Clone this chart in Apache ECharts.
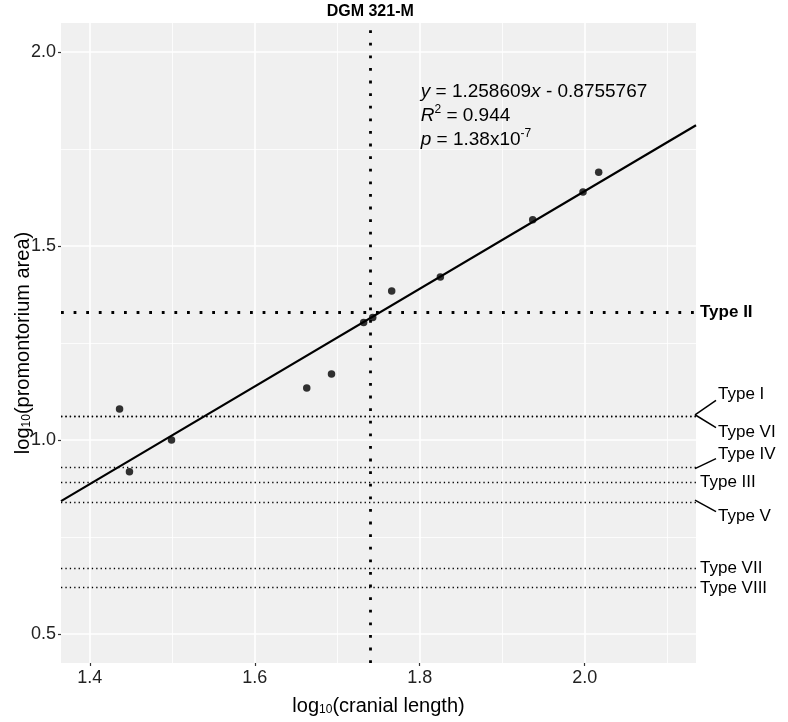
<!DOCTYPE html>
<html><head><meta charset="utf-8">
<script src="https://cdn.jsdelivr.net/npm/echarts@6/dist/echarts.min.js"></script>
<style>html,body{margin:0;padding:0;background:#fff}#c{width:788px;height:722px}</style>
</head><body><div id="c"></div>
<script>
// ---- data ----
const cranialLength    = [1.436, 1.448, 1.499, 1.663, 1.693, 1.732, 1.743, 1.766, 1.825, 1.937, 1.998, 2.017];
const promontoriumArea = [1.080, 0.918, 1.000, 1.134, 1.170, 1.303, 1.316, 1.384, 1.420, 1.568, 1.639, 1.690];
const fitSlope = 1.258609;
const fitIntercept = -0.8755767;
const specimenCranial = 1.74;          // DGM 321-M
const typeNames  = ['Type II', 'Type I', 'Type VI', 'Type IV', 'Type III', 'Type V', 'Type VII', 'Type VIII'];
const typeValues = [1.328, 1.065, 1.065, 0.926, 0.891, 0.845, 0.668, 0.618];
const xTicks = [1.4, 1.6, 1.8, 2.0];
const xMinorTicks = [1.5, 1.7, 1.9, 2.1];
const yTicks = [0.5, 1.0, 1.5, 2.0];
const yMinorTicks = [0.75, 1.25, 1.75];
const xLimits = [1.365, 2.135];
const yLimits = [0.425, 2.075];

// ---- layout / style ----
const FONT = '"Liberation Sans", Arial, sans-serif';
const leaderOffset = { 'Type I': -20, 'Type VI': 18, 'Type IV': -14, 'Type V': 16 };
const boldTypes = { 'Type II': true };

const chart = echarts.init(document.getElementById('c'), null, { renderer: 'canvas' });

const fitData = xLimits.map(x => [x, fitSlope * x + fitIntercept]);
const points = cranialLength.map((x, i) => [x, promontoriumArea[i]]);

const gridLines = [
  ...xTicks.map(v => ({ xAxis: v, lineStyle: { width: 1.6 } })),
  ...xMinorTicks.map(v => ({ xAxis: v, lineStyle: { width: 0.8 } })),
  ...yTicks.map(v => ({ yAxis: v, lineStyle: { width: 1.6 } })),
  ...yMinorTicks.map(v => ({ yAxis: v, lineStyle: { width: 0.8 } }))
];

const thinDots = { color: '#000', width: 1.3, type: [1.3, 3.1] };
const thickDots = { color: '#000', width: 2.8, type: [2.8, 9.8] };
const refLines = [
  { xAxis: specimenCranial, lineStyle: thickDots },
  ...typeValues.map((v, i) => ({ yAxis: v, lineStyle: boldTypes[typeNames[i]] ? thickDots : thinDots }))
];

const option = {
  animation: false,
  backgroundColor: '#ffffff',
  textStyle: { fontFamily: FONT },
  grid: {
    left: 61, right: 92, top: 23, bottom: 59,
    containLabel: false, outerBoundsMode: 'none',
    show: true, backgroundColor: '#F0F0F0', borderWidth: 0
  },
  xAxis: {
    type: 'value', min: xLimits[0], max: xLimits[1],
    name: 'log{sub|10}(cranial length)',
    nameLocation: 'middle', nameGap: 33, nameMoveOverlap: false,
    nameTextStyle: {
      fontSize: 20, color: '#000', fontFamily: FONT,
      rich: { sub: { fontSize: 12, verticalAlign: 'bottom', fontFamily: FONT, color: '#000', padding: [8, 0, 0, 0] } }
    },
    axisLine: { show: false },
    axisTick: { show: true, customValues: xTicks, length: 3, lineStyle: { color: '#333', width: 1.2 } },
    axisLabel: { customValues: xTicks, formatter: v => v.toFixed(1), fontSize: 18, color: '#222', margin: 6, fontFamily: FONT },
    splitLine: { show: false }
  },
  yAxis: {
    type: 'value', min: yLimits[0], max: yLimits[1],
    name: 'log{sub|10}(promontorium area)',
    nameLocation: 'middle', nameGap: 28, nameRotate: 90, nameMoveOverlap: false,
    nameTextStyle: {
      fontSize: 20, color: '#000', fontFamily: FONT,
      rich: { sub: { fontSize: 12, verticalAlign: 'bottom', fontFamily: FONT, color: '#000', padding: [8, 0, 0, 0] } }
    },
    axisLine: { show: false },
    axisTick: { show: true, customValues: yTicks, length: 3, lineStyle: { color: '#333', width: 1.2 } },
    axisLabel: { customValues: yTicks, formatter: v => v.toFixed(1), fontSize: 18, color: '#222', margin: 5, fontFamily: FONT },
    splitLine: { show: false }
  },
  series: [
    {
      name: 'grid', type: 'scatter', data: [], silent: true,
      markLine: {
        silent: true, symbol: 'none', z: 1, animation: false,
        label: { show: false },
        lineStyle: { color: '#ffffff', type: 'solid' },
        emphasis: { disabled: true },
        data: gridLines
      }
    },
    {
      name: 'refs', type: 'scatter', data: [], silent: true,
      markLine: {
        silent: true, symbol: 'none', z: 3, animation: false,
        label: { show: false },
        emphasis: { disabled: true },
        data: refLines
      }
    },
    {
      name: 'fit', type: 'line', data: fitData, showSymbol: false, z: 4,
      lineStyle: { color: '#000', width: 2.2 }, silent: true
    },
    {
      name: 'specimens', type: 'scatter', data: points, z: 5,
      symbol: 'circle', symbolSize: 7.5, itemStyle: { color: '#000' }, silent: true
    },
    {
      name: 'typeLabels', type: 'custom', clip: false, silent: true, z: 6,
      data: typeValues.map(v => [xLimits[1], v]),
      renderItem: function (params, api) {
        const name = typeNames[params.dataIndex];
        const p = api.coord([api.value(0), api.value(1)]);
        const children = [];
        let tx = p[0] + 4, ty = p[1];
        const dy = leaderOffset[name];
        if (dy) {
          children.push({
            type: 'line',
            shape: { x1: p[0] - 1, y1: p[1], x2: p[0] + 20, y2: p[1] + dy * 0.72 },
            style: { stroke: '#000', lineWidth: 1.5 }
          });
          tx = p[0] + 22; ty = p[1] + dy;
        }
        children.push({
          type: 'text',
          style: {
            text: name, x: tx, y: ty, fill: '#000',
            fontSize: 17, fontFamily: FONT, fontWeight: boldTypes[name] ? 'bold' : 'normal',
            align: 'left', verticalAlign: 'middle'
          }
        });
        return { type: 'group', children };
      }
    }
  ]
};

chart.setOption(option);

// annotation & specimen title, placed through the chart's scales
const eqPos = chart.convertToPixel({ gridIndex: 0 }, [1.8012, 1.898]);
const titlePos = chart.convertToPixel({ gridIndex: 0 }, [specimenCranial, yLimits[1]]);
chart.setOption({
  graphic: [
    {
      type: 'text', left: eqPos[0], top: eqPos[1] - 12, z: 10, silent: true,
      style: {
        text: '{i|y} = 1.258609{i|x} - 0.8755767\n{i|R}{sup|2} = 0.944\n{i|p} = 1.38x10{sup|-7}',
        fill: '#000', fontSize: 19, fontFamily: FONT, lineHeight: 24,
        rich: {
          i: { fontStyle: 'italic', fontSize: 19, fontFamily: FONT, lineHeight: 24 },
          sup: { fontSize: 12, fontFamily: FONT, verticalAlign: 'top', lineHeight: 24, padding: [0, 0, 0, 0] }
        }
      }
    },
    {
      type: 'text', x: titlePos[0], y: titlePos[1] - 11, z: 10, silent: true,
      style: {
        text: 'DGM 321-M', fill: '#000', fontSize: 16, fontWeight: 'bold', fontFamily: FONT,
        align: 'center', verticalAlign: 'middle'
      }
    }
  ]
});
</script>
</body></html>
